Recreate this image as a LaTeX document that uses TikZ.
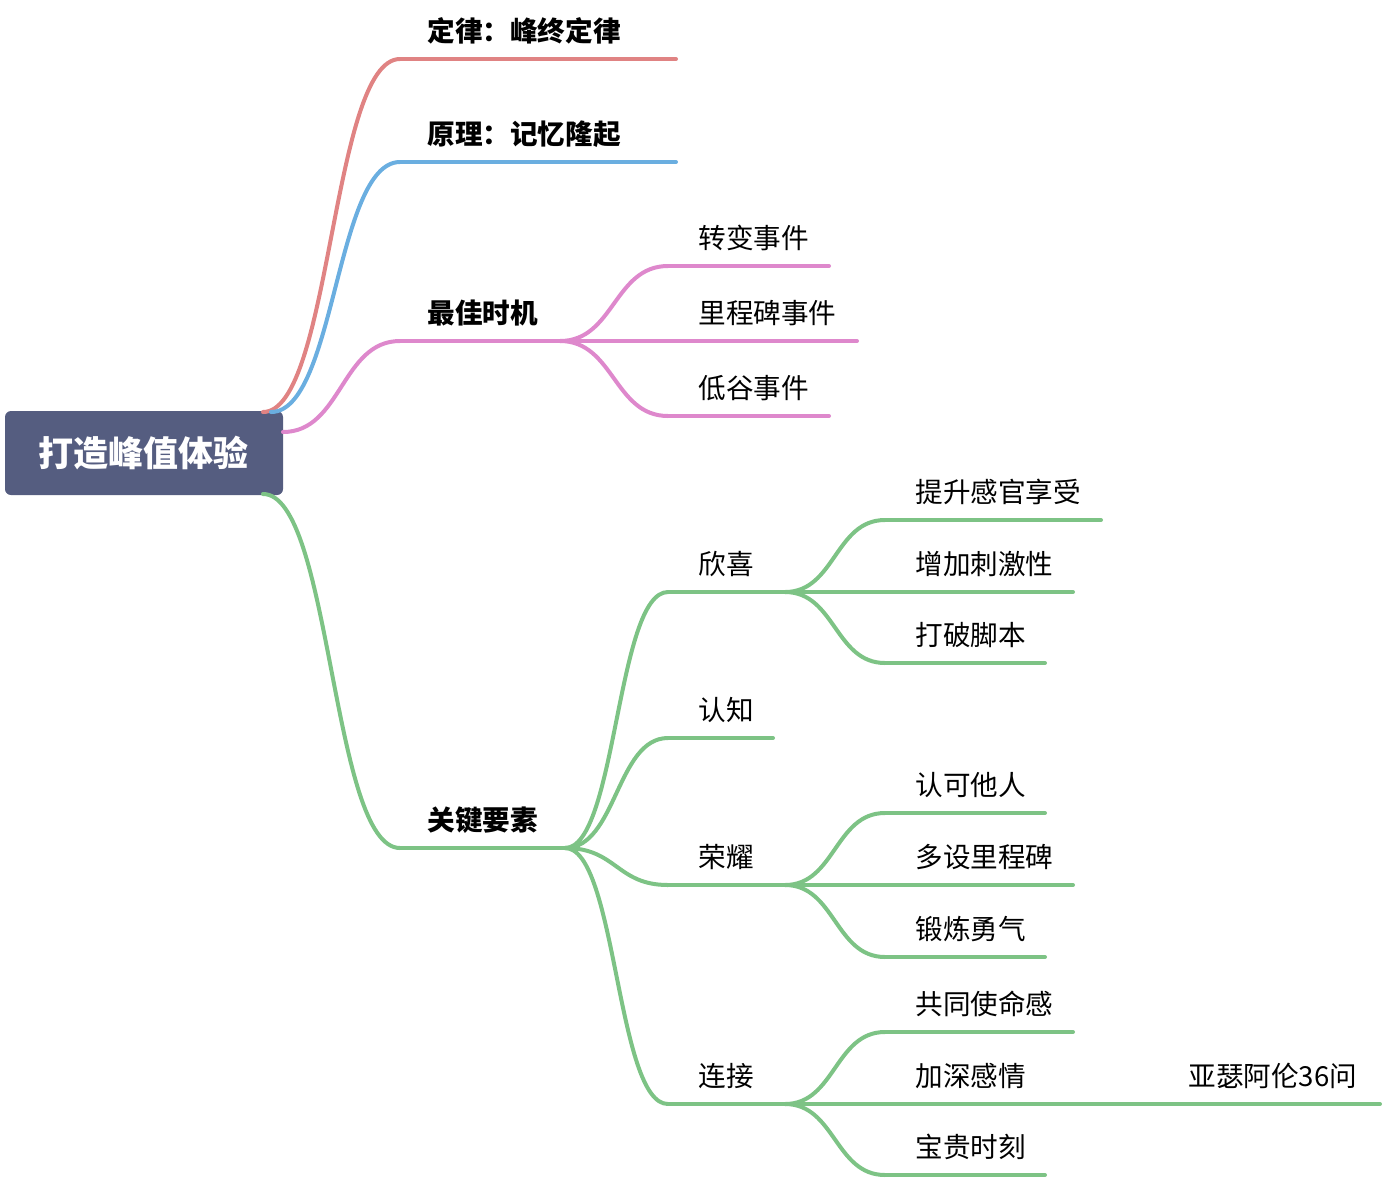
\documentclass[tikz,border=0pt]{standalone}
\usepackage{fontspec}
\setmainfont{Noto Sans CJK SC}
\usetikzlibrary{calc}
\definecolor{rootfill}{HTML}{555D80}
\definecolor{lawred}{HTML}{E08383}
\definecolor{ruleblue}{HTML}{6AAEE0}
\definecolor{timepink}{HTML}{DE88CC}
\definecolor{keygreen}{HTML}{7DC385}
\tikzset{
  edge/.style={line width=2pt, line cap=round},
  label/.style={anchor=base west, inner sep=0, font=\fontsize{13.8}{16}\selectfont},
  mainlabel/.style={label, font=\fontsize{13.8}{16}\selectfont\bfseries}
}
% topic: name, line start, line end, y, text, colour, label style, text x
\newcommand{\topic}[8]{%
  \coordinate (#1-s) at (#2,#4);
  \coordinate (#1-e) at (#3,#4);
  \node[#7] (#1) at (#8,#4-18) {#5};
  \draw[edge, #6] (#1-s) -- (#1-e);
}
\newcommand{\link}[3]{%
  \coordinate (m) at ($(#1)!0.5!(#2)$);
  \draw[edge, #3] (#1) .. controls (m |- #1) and (m |- #2) .. (#2);
}
\begin{document}
\begin{tikzpicture}[x=0.5pt, y=-0.5pt]
\useasboundingbox (0,0) rectangle (1382,1180);

\node[fill=rootfill, rounded corners=3pt, text=white, minimum width=139pt,
      minimum height=42pt, font=\fontsize{17.5}{20}\selectfont\bfseries]
      (root) at (144,453) {打造峰值体验};
\coordinate (r-red) at (263,412);
\coordinate (r-blue) at (271,412);
\coordinate (r-pink) at (283,432);
\coordinate (r-green) at (263,494);

\topic{law}{400}{676}{59}{定律：峰终定律}{lawred}{mainlabel}{427}
\topic{rule}{400}{676}{162}{原理：记忆隆起}{ruleblue}{mainlabel}{427}
\topic{time}{400}{560}{341}{最佳时机}{timepink}{mainlabel}{427}
\topic{key}{400}{565}{848}{关键要素}{keygreen}{mainlabel}{427}

\link{r-red}{law-s}{lawred}
\link{r-blue}{rule-s}{ruleblue}
\link{r-pink}{time-s}{timepink}
\link{r-green}{key-s}{keygreen}

\topic{turn}{668}{829}{266}{转变事件}{timepink}{label}{698}
\topic{mile}{560}{857}{341}{里程碑事件}{timepink}{label}{698}
\topic{low}{668}{829}{416}{低谷事件}{timepink}{label}{698}
\link{time-e}{turn-s}{timepink}
\link{time-e}{low-s}{timepink}

\topic{joy}{668}{785}{592}{欣喜}{keygreen}{label}{698}
\topic{know}{668}{773}{738}{认知}{keygreen}{label}{698}
\topic{glory}{668}{785}{885}{荣耀}{keygreen}{label}{698}
\topic{bond}{668}{785}{1104}{连接}{keygreen}{label}{698}
\foreach \c in {joy,know,glory,bond}{\link{key-e}{\c-s}{keygreen}}

\topic{sense}{885}{1101}{520}{提升感官享受}{keygreen}{label}{915}
\topic{thrill}{785}{1073}{592}{增加刺激性}{keygreen}{label}{915}
\topic{script}{885}{1045}{663}{打破脚本}{keygreen}{label}{915}
\link{joy-e}{sense-s}{keygreen}
\link{joy-e}{script-s}{keygreen}

\topic{praise}{885}{1045}{813}{认可他人}{keygreen}{label}{915}
\topic{marks}{785}{1073}{885}{多设里程碑}{keygreen}{label}{915}
\topic{brave}{885}{1045}{957}{锻炼勇气}{keygreen}{label}{915}
\link{glory-e}{praise-s}{keygreen}
\link{glory-e}{brave-s}{keygreen}

\topic{mission}{885}{1073}{1032}{共同使命感}{keygreen}{label}{915}
\topic{deep}{785}{1045}{1104}{加深感情}{keygreen}{label}{915}
\topic{moment}{885}{1045}{1175}{宝贵时刻}{keygreen}{label}{915}
\link{bond-e}{mission-s}{keygreen}
\link{bond-e}{moment-s}{keygreen}

\topic{aron}{1045}{1380}{1104}{亚瑟阿伦36问}{keygreen}{label}{1188}
\end{tikzpicture}
\end{document}
